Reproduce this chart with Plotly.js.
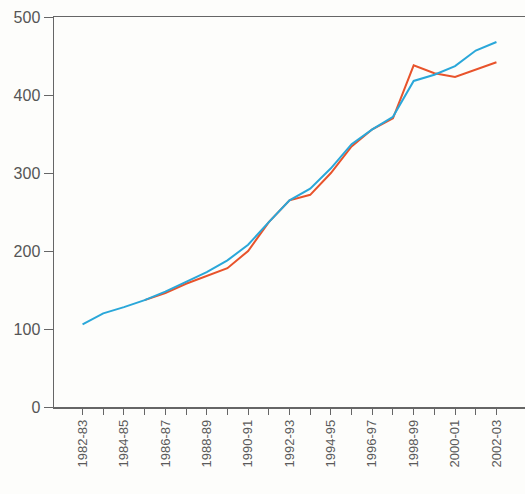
<!DOCTYPE html>
<html>
<head>
<meta charset="utf-8">
<script src="https://cdn.plot.ly/plotly-3.0.1.min.js"></script>
<style>html,body{margin:0;padding:0;background:#fdfdfb;}</style>
</head>
<body>
<div id="chart" style="width:525px;height:494px;"></div>
<script>
const categories = ["1982-83","1983-84","1984-85","1985-86","1986-87","1987-88","1988-89","1989-90","1990-91","1991-92","1992-93","1993-94","1994-95","1995-96","1996-97","1997-98","1998-99","1999-00","2000-01","2001-02","2002-03"];
const blueSeries = [106,120,128,137,148,160,173,188,208,237,265,280,306,337,356,372,418,426,437,457,468];
const redSeries = [null,null,null,137,146,158,168,178,200,237,265,272,300,334,356,370,438,428,423,432,442];
const tickLabels = categories.map((c, i) => (i % 2 === 0 ? c : ""));
const yTicks = [0,100,200,300,400,500];

const traces = [
  {x: categories, y: redSeries, type: "scatter", mode: "lines", line: {color: "#e8532b", width: 2}, connectgaps: false, hoverinfo: "none"},
  {x: categories, y: blueSeries, type: "scatter", mode: "lines", line: {color: "#2aa7d9", width: 2}, hoverinfo: "none"}
];

const layout = {
  width: 525, height: 494,
  margin: {l: 54, r: 0, t: 17, b: 87},
  paper_bgcolor: "#fdfdfb",
  plot_bgcolor: "#fdfdfb",
  showlegend: false,
  font: {family: "Liberation Sans, Arial, sans-serif", color: "#555"},
  xaxis: {
    type: "category",
    range: [-1.38, 21.38],
    tickmode: "array",
    tickvals: categories,
    ticktext: tickLabels,
    tickangle: -90,
    ticks: "outside", ticklen: 6, tickcolor: "#666", tickwidth: 1,
    showline: true, linecolor: "#666", linewidth: 1.5,
    mirror: true,
    showgrid: false, zeroline: false,
    tickfont: {size: 13, color: "#5a5a5a"}
  },
  yaxis: {
    range: [0, 500],
    tickmode: "array",
    tickvals: yTicks,
    ticks: "outside", ticklen: 9, tickcolor: "#666", tickwidth: 1,
    showline: true, linecolor: "#666", linewidth: 1.5,
    showgrid: false, zeroline: false,
    tickfont: {size: 16, color: "#555"}
  }
};

Plotly.newPlot("chart", traces, layout, {displayModeBar: false, staticPlot: true});
</script>
</body>
</html>
